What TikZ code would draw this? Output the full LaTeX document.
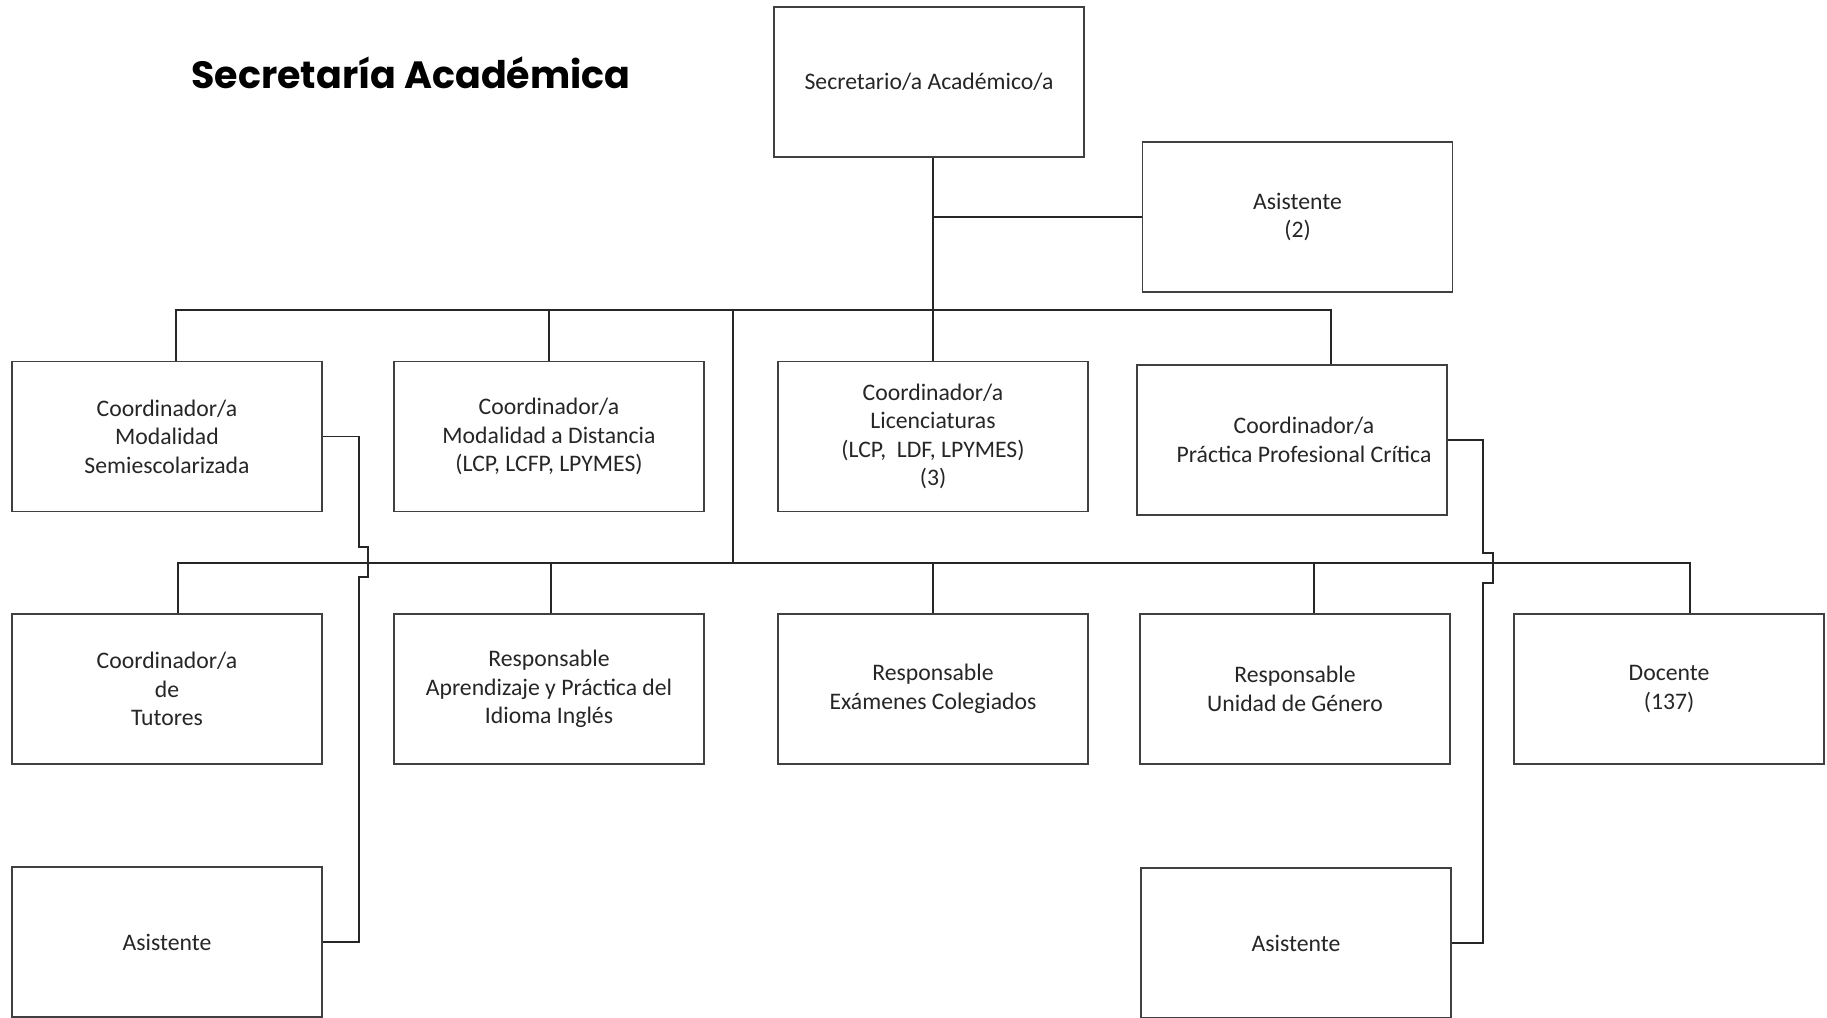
\documentclass[tikz,border=0pt]{standalone}
\usepackage{fontspec}
\setmainfont{Carlito}
\newfontfamily\titlefont{Poppins}
\usetikzlibrary{calc}
\begin{document}
\begin{tikzpicture}[x=1pt,y=-1pt,
  box/.style={draw=black!75, line width=1.5pt, minimum width=310pt, minimum height=150pt,
    inner sep=0pt, align=center, font=\fontsize{23.7}{28.5}\selectfont, text=black!85},
  conn/.style={draw=black!85, line width=1.5pt},
  ttl/.style={font=\titlefont\bfseries\fontsize{38}{44}\selectfont, text=black, inner sep=0pt}]
\useasboundingbox (0,0) rectangle (1827,1017);
\clip (0,0) rectangle (1827,1017);
\fill[white] (0,0) rectangle (1827,1017);

\node[ttl] (title) at (411,73) {Secretaría Académica};

\node[box] (sec) at (929,82) {Secretario/a Académico/a};
\node[box] (asis2) at (1297.5,217) {Asistente\\(2)};

\node[box] (b1) at (167,436.5) {Coordinador/a\\Modalidad\\Semiescolarizada};
\node[box] (b2) at (549,436.5) {Coordinador/a\\Modalidad a Distancia\\(LCP, LCFP, LPYMES)};
\node[box] (b3) at (933,436.5) {Coordinador/a\\Licenciaturas\\(LCP,\ \ LDF, LPYMES)\\(3)};
\node[box] (b4) at (1292,440) {\hspace*{24pt}Coordinador/a\\\hspace*{24pt}Práctica Profesional Crítica};

\node[box] (c1) at (167,689) {Coordinador/a\\de\\Tutores};
\node[box] (c2) at (549,689) {Responsable\\Aprendizaje y Práctica del\\Idioma Inglés};
\node[box] (c3) at (933,689) {Responsable\\Exámenes Colegiados};
\node[box] (c4) at (1295,689) {Responsable\\Unidad de Género};
\node[box] (c5) at (1669,689) {Docente\\(137)};

\node[box] (d1) at (167,942) {Asistente};
\node[box] (d2) at (1296,943) {Asistente};

% junctions
\coordinate (ub1) at (176,310);
\coordinate (ub5) at (1331,310);
\coordinate (mid) at (733,310);
\coordinate (lb1) at (178,563);
\coordinate (lb2) at (551,563);
\coordinate (lb4) at (1314,563);
\coordinate (lb5) at (1690,563);
\coordinate (hopL) at (359,547);
\coordinate (hopR) at (1483,553);

% top
\draw[conn] (b3.north |- sec.south) -- (b3.north);
\draw[conn] (b3.north |- asis2.west) -- (asis2.west);

% upper bus
\draw[conn] (ub1 |- b1.north) -- (ub1) -- (ub5) -- (ub5 |- b4.north);
\draw[conn] (b2.north) -- (b2.north |- ub1);
\draw[conn] (mid) -- (mid |- lb1);

% lower bus
\draw[conn] (lb1 |- c1.north) -- (lb1) -- (lb5) -- (lb5 |- c5.north);
\draw[conn] (lb2) -- (lb2 |- c2.north);
\draw[conn] (c3.north |- lb1) -- (c3.north);
\draw[conn] (lb4) -- (lb4 |- c4.north);

% side connectors with hops
\draw[conn] (b1.east) -| (hopL) -- ++(9,0) -- ++(0,30) -- ++(-9,0) |- (d1.east);
\draw[conn] (b4.east) -| (hopR) -- ++(10,0) -- ++(0,30) -- ++(-10,0) |- (d2.east);
\end{tikzpicture}
\end{document}
